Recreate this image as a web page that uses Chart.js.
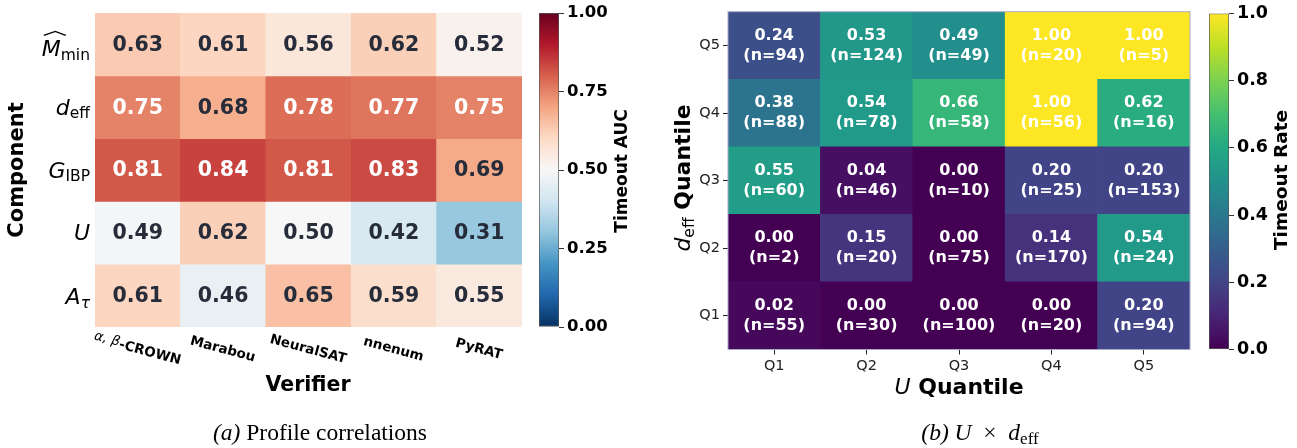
<!DOCTYPE html>
<html>
<head>
<meta charset="utf-8">
<script src="https://cdn.jsdelivr.net/npm/chart.js@4.4.0/dist/chart.umd.min.js"></script>
<style>
  body { margin: 0; background: #fff; width: 1297px; height: 448px; position: relative; overflow: hidden; }
  .box { position: absolute; top: 0; height: 448px; }
</style>
</head>
<body>
<div class="box" style="left:0;width:530px"><canvas id="heatA"></canvas></div>
<div class="box" style="left:530px;width:110px"><canvas id="cbarA"></canvas></div>
<div class="box" style="left:640px;width:560px"><canvas id="heatB"></canvas></div>
<div class="box" style="left:1200px;width:97px"><canvas id="cbarB"></canvas></div>
<script>
// (a) timeout AUC per component / verifier, rows top -> bottom
const verifiers = ["α, β-CROWN", "Marabou", "NeuralSAT", "nnenum", "PyRAT"];
const components = ["M_min", "d_eff", "G_IBP", "U", "A_tau"];
const aucRows = [
  [0.63, 0.61, 0.56, 0.62, 0.52],
  [0.75, 0.68, 0.78, 0.77, 0.75],
  [0.81, 0.84, 0.81, 0.83, 0.69],
  [0.49, 0.62, 0.50, 0.42, 0.31],
  [0.61, 0.46, 0.65, 0.59, 0.55]
];
const aucTicks = [0, 0.25, 0.5, 0.75, 1];

// (b) timeout rate, rows = d_eff Q1 (bottom) .. Q5 (top), cols = U Q1..Q5
const uQuant = ["Q1", "Q2", "Q3", "Q4", "Q5"];
const dQuant = ["Q1", "Q2", "Q3", "Q4", "Q5"];
const rateRows = [
  [0.02, 0.00, 0.00, 0.00, 0.20],
  [0.00, 0.15, 0.00, 0.14, 0.54],
  [0.55, 0.04, 0.00, 0.20, 0.20],
  [0.38, 0.54, 0.66, 1.00, 0.62],
  [0.24, 0.53, 0.49, 1.00, 1.00]
];
const countRows = [
  [55, 30, 100, 20, 94],
  [2, 20, 75, 170, 24],
  [60, 46, 10, 25, 153],
  [88, 78, 58, 56, 16],
  [94, 124, 49, 20, 5]
];
const rateTicks = [0, 0.2, 0.4, 0.6, 0.8, 1];

// colormaps
const RDBU_R = ["#053061","#2166ac","#4393c3","#92c5de","#d1e5f0","#f7f7f7","#fddbc7","#f4a582","#d6604d","#b2182b","#67001f"];
const VIRIDIS = ["#440154","#482475","#414487","#355f8d","#2a788e","#21918c","#22a884","#44bf70","#7ad151","#bddf26","#fde725"];

function hex(h) { return [1, 3, 5].map(i => parseInt(h.substr(i, 2), 16)); }
function cmap(stops, v) {
  v = Math.max(0, Math.min(1, v));
  const p = v * (stops.length - 1);
  const i = Math.min(Math.floor(p), stops.length - 2);
  const t = p - i;
  const a = hex(stops[i]), b = hex(stops[i + 1]);
  const c = a.map((x, k) => Math.round(x + (b[k] - x) * t));
  return `rgb(${c[0]},${c[1]},${c[2]})`;
}

Chart.defaults.font.family = "'DejaVu Sans', sans-serif";

// draw a run of text pieces with different fonts, returns x of each piece
function drawRich(ctx, parts, x, y, align) {
  let w = 0;
  parts.forEach(p => { ctx.font = p.font; w += ctx.measureText(p.text).width; });
  let cx = align === "right" ? x - w : align === "center" ? x - w / 2 : x;
  ctx.textAlign = "left";
  ctx.textBaseline = "alphabetic";
  const xs = [];
  parts.forEach(p => {
    ctx.font = p.font;
    xs.push(cx);
    ctx.fillText(p.text, cx, y + (p.dy || 0));
    cx += ctx.measureText(p.text).width;
  });
  return xs;
}

const MATH = "oblique 22px 'DejaVu Sans'";
const SUB = "15.5px 'DejaVu Sans'";
function componentParts(name) {
  if (name === "M_min") return [{ text: "M", font: MATH }, { text: "min", font: SUB, dy: 3.5 }];
  if (name === "d_eff") return [{ text: "d", font: MATH }, { text: "eff", font: SUB, dy: 3.5 }];
  if (name === "G_IBP") return [{ text: "G", font: MATH }, { text: "IBP", font: SUB, dy: 3.5 }];
  if (name === "A_tau") return [{ text: "A", font: MATH }, { text: "τ", font: "oblique 15.5px 'DejaVu Sans'", dy: 3.5 }];
  return [{ text: name, font: MATH }];
}

const heatALabels = {
  id: "heatALabels",
  afterDatasetsDraw(chart) {
    const { ctx, scales: { x, y }, chartArea } = chart;
    ctx.save();
    // cell values
    ctx.font = "bold 20.5px 'DejaVu Sans'";
    ctx.textAlign = "center";
    ctx.textBaseline = "middle";
    aucRows.forEach((row, i) => {
      row.forEach((v, j) => {
        ctx.fillStyle = v >= 0.7 ? "#ffffff" : "#262c3a";
        ctx.fillText(v.toFixed(2), x.getPixelForValue(j), y.getPixelForValue(i + 0.5) + 1);
      });
    });
    // component labels
    ctx.fillStyle = "#000";
    components.forEach((name, i) => {
      const cy = y.getPixelForValue(i + 0.5);
      const base = cy + (name === "M_min" ? 12 : name === "A_tau" ? 8.5 : 7.5);
      const xs = drawRich(ctx, componentParts(name), chartArea.left - 5, base, "right");
      if (name === "M_min") {
        ctx.font = MATH;
        const mw = ctx.measureText("M").width;
        ctx.beginPath();
        ctx.moveTo(xs[0] + 2, base - 21);
        ctx.lineTo(xs[0] + mw / 2 + 4, base - 25);
        ctx.lineTo(xs[0] + mw + 5, base - 21);
        ctx.lineWidth = 1.4;
        ctx.strokeStyle = "#000";
        ctx.stroke();
      }
    });
    // verifier labels, rotated
    verifiers.forEach((name, j) => {
      ctx.save();
      ctx.translate(x.getPixelForValue(j), chartArea.bottom + 21);
      ctx.rotate(15 * Math.PI / 180);
      const parts = name.startsWith("α")
        ? [{ text: "α, β", font: "oblique 13.5px 'DejaVu Sans'", dy: -2 }, { text: "-CROWN", font: "bold 13.5px 'DejaVu Sans'" }]
        : [{ text: name, font: "bold 13.5px 'DejaVu Sans'" }];
      drawRich(ctx, parts, 0, 5, "center");
      ctx.restore();
    });
    // axis titles
    ctx.font = "bold 20.5px 'DejaVu Sans'";
    ctx.textAlign = "center";
    ctx.textBaseline = "middle";
    ctx.fillText("Verifier", 308, 386);
    ctx.save();
    ctx.translate(18, 170);
    ctx.rotate(-Math.PI / 2);
    ctx.font = "bold 21px 'DejaVu Sans'";
    ctx.fillText("Component", 0, 0);
    ctx.restore();
    // caption
    drawRich(ctx, [
      { text: "(a)", font: "italic 23.5px 'Liberation Serif'" },
      { text: " Profile correlations", font: "23.5px 'Liberation Serif'" }
    ], 320, 440, "center");
    ctx.restore();
  }
};

new Chart(document.getElementById("heatA"), {
  type: "bar",
  data: {
    labels: verifiers,
    datasets: aucRows.map((row, i) => ({
      data: row.map(() => [i, i + 1]),
      backgroundColor: row.map(v => cmap(RDBU_R, v)),
      borderWidth: 0,
      grouped: false,
      barPercentage: 1,
      categoryPercentage: 1
    }))
  },
  options: {
    responsive: true,
    maintainAspectRatio: false,
    animation: false,
    layout: { padding: { left: 95, top: 13, right: 8, bottom: 121 } },
    scales: {
      x: { display: false },
      y: { display: false, min: 0, max: 5, reverse: true }
    },
    plugins: { legend: { display: false }, tooltip: { enabled: false } }
  },
  plugins: [heatALabels]
});

const heatBLabels = {
  id: "heatBLabels",
  afterDatasetsDraw(chart) {
    const { ctx, scales: { x, y }, chartArea } = chart;
    ctx.save();
    ctx.strokeStyle = "#a8a8c8";
    ctx.lineWidth = 1;
    ctx.strokeRect(chartArea.left, chartArea.top, chartArea.right - chartArea.left, chartArea.bottom - chartArea.top);
    ctx.fillStyle = "#fff";
    ctx.font = "bold 16px 'DejaVu Sans'";
    ctx.textAlign = "center";
    ctx.textBaseline = "middle";
    rateRows.forEach((row, i) => {
      row.forEach((v, j) => {
        const cx = x.getPixelForValue(j);
        const cy = y.getPixelForValue(i + 0.5);
        ctx.fillText(v.toFixed(2), cx, cy - 10);
        ctx.fillText(`(n=${countRows[i][j]})`, cx, cy + 10);
      });
    });
    ctx.fillStyle = "#000";
    drawRich(ctx, [
      { text: "U", font: "oblique 22px 'DejaVu Sans'" },
      { text: " Quantile", font: "bold 22px 'DejaVu Sans'" }
    ], 319, 394, "center");
    ctx.save();
    ctx.translate(50, 178);
    ctx.rotate(-Math.PI / 2);
    drawRich(ctx, [
      { text: "d", font: "oblique 22px 'DejaVu Sans'" },
      { text: "eff", font: "15.5px 'DejaVu Sans'", dy: 4 },
      { text: " Quantile", font: "bold 22px 'DejaVu Sans'" }
    ], 0, 0, "center");
    ctx.restore();
    drawRich(ctx, [
      { text: "(b) ", font: "italic 23.5px 'Liberation Serif'" },
      { text: "U", font: "italic 23.5px 'Liberation Serif'" },
      { text: "  ×  ", font: "23.5px 'Liberation Serif'" },
      { text: "d", font: "italic 23.5px 'Liberation Serif'" },
      { text: "eff", font: "17px 'Liberation Serif'", dy: 4 }
    ], 340, 440, "center");
    ctx.restore();
  }
};

const qTickStyle = {
  grid: { display: true, drawOnChartArea: false, offset: false, tickLength: 5, tickColor: "#222" },
  border: { display: false },
  ticks: { font: { size: 14.5 }, color: "#222", padding: 3, maxRotation: 0, autoSkip: false }
};

new Chart(document.getElementById("heatB"), {
  type: "bar",
  data: {
    labels: uQuant,
    datasets: rateRows.map((row, i) => ({
      data: row.map(() => [i, i + 1]),
      backgroundColor: row.map(v => cmap(VIRIDIS, v)),
      borderWidth: 0,
      grouped: false,
      barPercentage: 1,
      categoryPercentage: 1
    }))
  },
  options: {
    responsive: true,
    maintainAspectRatio: false,
    animation: false,
    layout: { padding: { left: 48, top: 9.5, right: 10, bottom: 68.5 } },
    scales: {
      x: { ...qTickStyle, afterFit: s => { s.height = 30; } },
      y: {
        ...qTickStyle,
        min: 0, max: 5,
        afterBuildTicks: s => { s.ticks = dQuant.map((q, i) => ({ value: i + 0.5 })); },
        ticks: { ...qTickStyle.ticks, callback: v => dQuant[Math.floor(v)] },
        afterFit: s => { s.width = 40; }
      }
    },
    plugins: { legend: { display: false }, tooltip: { enabled: false } }
  },
  plugins: [heatBLabels]
});

function colorbar(id, stops, ticks, digits, size, pad, axisWidth, title, titleX, titleY, titleSize) {
  new Chart(document.getElementById(id), {
    type: "bar",
    data: {
      labels: [""],
      datasets: [{
        data: [[0, 1]],
        backgroundColor: c => {
          const chart = c.chart;
          if (!chart.chartArea) return null;
          const ys = chart.scales.y;
          const g = chart.ctx.createLinearGradient(0, ys.getPixelForValue(0), 0, ys.getPixelForValue(1));
          for (let k = 0; k <= 40; k++) g.addColorStop(k / 40, cmap(stops, k / 40));
          return g;
        },
        borderColor: "#555",
        borderWidth: 1,
        borderSkipped: false,
        barPercentage: 1,
        categoryPercentage: 1
      }]
    },
    options: {
      responsive: true,
      maintainAspectRatio: false,
      animation: false,
      layout: { padding: pad },
      scales: {
        x: { display: false },
        y: {
          position: "right",
          min: 0, max: 1,
          afterBuildTicks: s => { s.ticks = ticks.map(v => ({ value: v })); },
          ticks: { callback: v => v.toFixed(digits), font: { size: size, weight: "bold" }, color: "#000", padding: 3 },
          grid: { drawOnChartArea: false, tickLength: 5, tickColor: "#333" },
          border: { display: false },
          afterFit: s => { s.width = axisWidth; }
        }
      },
      plugins: { legend: { display: false }, tooltip: { enabled: false } }
    },
    plugins: [{
      id: "cbTitle",
      afterDraw(chart) {
        const ctx = chart.ctx;
        ctx.save();
        ctx.translate(titleX, titleY);
        ctx.rotate(-Math.PI / 2);
        ctx.font = `bold ${titleSize}px 'DejaVu Sans'`;
        ctx.fillStyle = "#000";
        ctx.textAlign = "center";
        ctx.textBaseline = "middle";
        ctx.fillText(title, 0, 0);
        ctx.restore();
      }
    }]
  });
}

colorbar("cbarA", RDBU_R, aucTicks, 2, 16.5, { left: 9, top: 13, right: 0, bottom: 121 }, 81, "Timeout AUC", 93, 171, 17);
colorbar("cbarB", VIRIDIS, rateTicks, 1, 17.5, { left: 9, top: 9.5, right: 0, bottom: 98.5 }, 68, "Timeout Rate", 82, 180, 18.5);
</script>
</body>
</html>
